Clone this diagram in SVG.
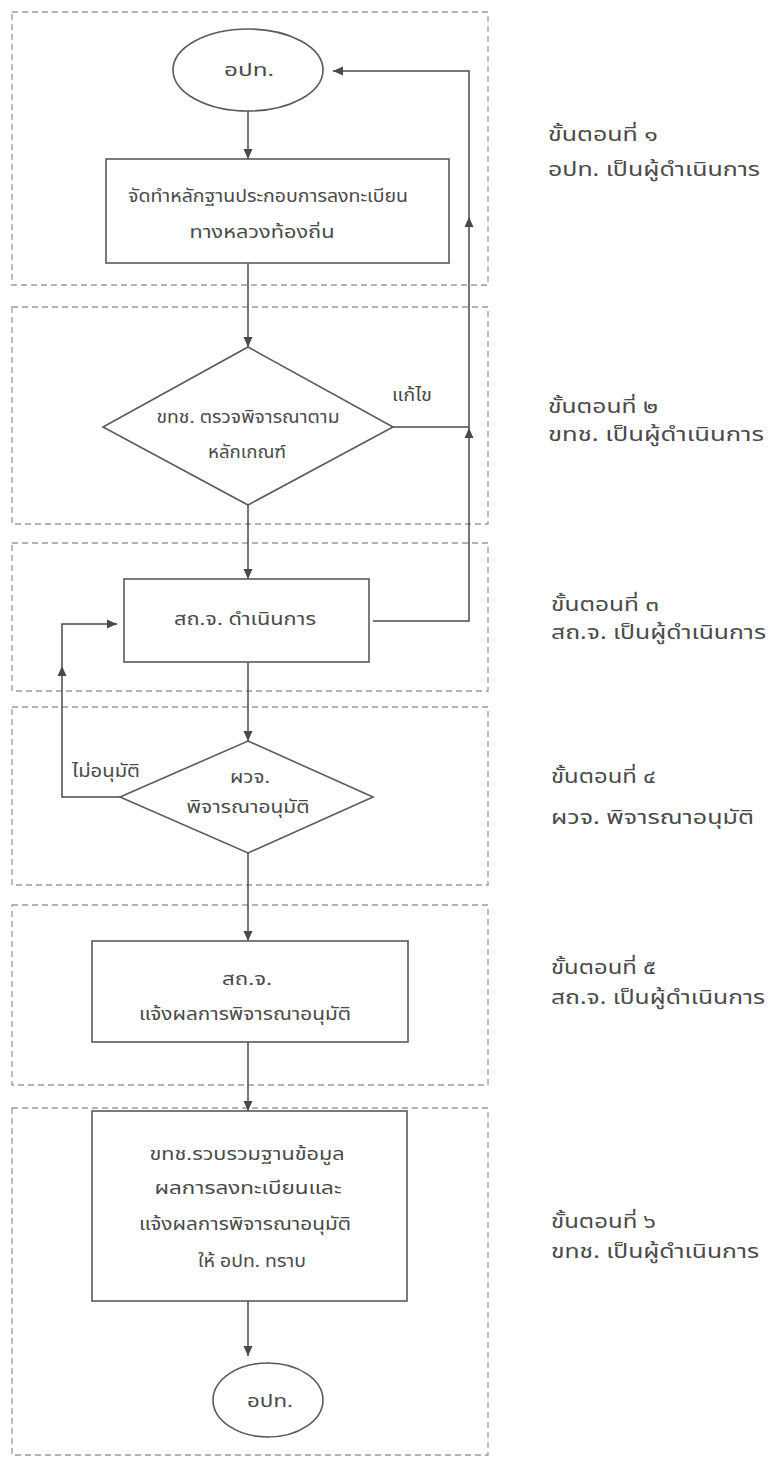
<svg xmlns="http://www.w3.org/2000/svg" width="772" height="1461" viewBox="0 0 772 1461">
<defs>
<marker id="ah" viewBox="0 0 10 10" refX="10" refY="5" markerWidth="10" markerHeight="10" markerUnits="userSpaceOnUse" orient="auto"><path d="M0,0.5 L10,5 L0,9.5 z" fill="#4a4a4a"/></marker>
<style>
.stage{fill:none;stroke:#9a9a9a;stroke-width:1.3;stroke-dasharray:6,4}
.shape{fill:#fff;stroke:#5a5a5a;stroke-width:1.6}
.ln{fill:none;stroke:#4a4a4a;stroke-width:1.5}
.t{font-family:"Noto Sans Thai","Noto Sans Thai UI","Noto Sans","DejaVu Sans",sans-serif;font-size:17px;fill:#4a4a4a;text-anchor:middle;dominant-baseline:central}
.lbl{font-family:"Noto Sans Thai","Noto Sans Thai UI","Noto Sans","DejaVu Sans",sans-serif;font-size:19px;fill:#4a4a4a}
.tri{fill:#4a4a4a}
</style>
</defs>
<g id="stages">
<rect class="stage" x="12" y="12" width="476" height="273"/>
<rect class="stage" x="12" y="307" width="476" height="217"/>
<rect class="stage" x="12" y="543" width="476" height="148"/>
<rect class="stage" x="12" y="707" width="476" height="178"/>
<rect class="stage" x="12" y="905" width="476" height="180"/>
<rect class="stage" x="12" y="1108" width="476" height="347"/>
</g>
<g id="connectors">
<line class="ln" x1="248" y1="111" x2="248" y2="159" marker-end="url(#ah)"/>
<line class="ln" x1="248" y1="263" x2="248" y2="347" marker-end="url(#ah)"/>
<line class="ln" x1="248" y1="505" x2="248" y2="579" marker-end="url(#ah)"/>
<line class="ln" x1="248" y1="662" x2="248" y2="741" marker-end="url(#ah)"/>
<line class="ln" x1="248" y1="853" x2="248" y2="941" marker-end="url(#ah)"/>
<line class="ln" x1="248" y1="1042" x2="248" y2="1111" marker-end="url(#ah)"/>
<line class="ln" x1="248" y1="1301" x2="248" y2="1356" marker-end="url(#ah)"/>
<polyline class="ln" points="373,621 469,621 469,71 333,71" marker-end="url(#ah)"/>
<line class="ln" x1="393" y1="427" x2="469" y2="427"/>
<path class="tri" d="M469,217 L473.5,227 L464.5,227 z"/>
<path class="tri" d="M469,428 L473.5,438 L464.5,438 z"/>
<polyline class="ln" points="120,797 62,797 62,624 117,624" marker-end="url(#ah)"/>
<path class="tri" d="M62,666 L66.5,676 L57.5,676 z"/>
<text class="t" x="412" y="396" textLength="40" lengthAdjust="spacingAndGlyphs">แก้ไข</text>
<text class="t" x="106" y="772" textLength="68" lengthAdjust="spacingAndGlyphs">ไม่อนุมัติ</text>
</g>
<g id="n1">
<ellipse class="shape" cx="248" cy="70" rx="75" ry="41"/>
<text class="t" x="249" y="71" textLength="50" lengthAdjust="spacingAndGlyphs">อปท.</text>
</g>
<g id="n2">
<rect class="shape" x="106" y="159" width="343" height="104"/>
<text class="t" x="268" y="197" textLength="280" lengthAdjust="spacingAndGlyphs">จัดทำหลักฐานประกอบการลงทะเบียน</text>
<text class="t" x="262" y="233" textLength="145" lengthAdjust="spacingAndGlyphs">ทางหลวงท้องถิ่น</text>
</g>
<g id="n3">
<polygon class="shape" points="248,347 393,427 248,505 103,427"/>
<text class="t" x="248" y="418" textLength="183" lengthAdjust="spacingAndGlyphs">ขทช. ตรวจพิจารณาตาม</text>
<text class="t" x="247" y="453" textLength="78" lengthAdjust="spacingAndGlyphs">หลักเกณฑ์</text>
</g>
<g id="n4">
<rect class="shape" x="124" y="579" width="245" height="83"/>
<text class="t" x="245" y="620" textLength="142" lengthAdjust="spacingAndGlyphs">สถ.จ. ดำเนินการ</text>
</g>
<g id="n5">
<polygon class="shape" points="248,741 373,797 248,853 120,797"/>
<text class="t" x="250" y="778" textLength="40" lengthAdjust="spacingAndGlyphs">ผวจ.</text>
<text class="t" x="248" y="808" textLength="123" lengthAdjust="spacingAndGlyphs">พิจารณาอนุมัติ</text>
</g>
<g id="n6">
<rect class="shape" x="92" y="941" width="316" height="101"/>
<text class="t" x="247" y="980" textLength="50" lengthAdjust="spacingAndGlyphs">สถ.จ.</text>
<text class="t" x="245" y="1015" textLength="212" lengthAdjust="spacingAndGlyphs">แจ้งผลการพิจารณาอนุมัติ</text>
</g>
<g id="n7">
<rect class="shape" x="92" y="1111" width="315" height="190"/>
<text class="t" x="247" y="1155" textLength="195" lengthAdjust="spacingAndGlyphs">ขทช.รวบรวมฐานข้อมูล</text>
<text class="t" x="248" y="1189" textLength="187" lengthAdjust="spacingAndGlyphs">ผลการลงทะเบียนและ</text>
<text class="t" x="245" y="1225" textLength="212" lengthAdjust="spacingAndGlyphs">แจ้งผลการพิจารณาอนุมัติ</text>
<text class="t" x="252" y="1262" textLength="108" lengthAdjust="spacingAndGlyphs">ให้ อปท. ทราบ</text>
</g>
<g id="n8">
<ellipse class="shape" cx="268" cy="1400" rx="55" ry="37"/>
<text class="t" x="270" y="1402" textLength="46" lengthAdjust="spacingAndGlyphs">อปท.</text>
</g>
<g id="labels">
<text class="lbl" x="548" y="141" textLength="110" lengthAdjust="spacingAndGlyphs">ขั้นตอนที่ ๑</text>
<text class="lbl" x="548" y="176" textLength="212" lengthAdjust="spacingAndGlyphs">อปท. เป็นผู้ดำเนินการ</text>
<text class="lbl" x="548" y="413" textLength="110" lengthAdjust="spacingAndGlyphs">ขั้นตอนที่ ๒</text>
<text class="lbl" x="548" y="441" textLength="216" lengthAdjust="spacingAndGlyphs">ขทช. เป็นผู้ดำเนินการ</text>
<text class="lbl" x="551" y="611" textLength="108" lengthAdjust="spacingAndGlyphs">ขั้นตอนที่ ๓</text>
<text class="lbl" x="551" y="639" textLength="215" lengthAdjust="spacingAndGlyphs">สถ.จ. เป็นผู้ดำเนินการ</text>
<text class="lbl" x="551" y="783" textLength="105" lengthAdjust="spacingAndGlyphs">ขั้นตอนที่ ๔</text>
<text class="lbl" x="551" y="824" textLength="203" lengthAdjust="spacingAndGlyphs">ผวจ. พิจารณาอนุมัติ</text>
<text class="lbl" x="551" y="974" textLength="105" lengthAdjust="spacingAndGlyphs">ขั้นตอนที่ ๕</text>
<text class="lbl" x="551" y="1004" textLength="214" lengthAdjust="spacingAndGlyphs">สถ.จ. เป็นผู้ดำเนินการ</text>
<text class="lbl" x="551" y="1228" textLength="105" lengthAdjust="spacingAndGlyphs">ขั้นตอนที่ ๖</text>
<text class="lbl" x="551" y="1258" textLength="208" lengthAdjust="spacingAndGlyphs">ขทช. เป็นผู้ดำเนินการ</text>
</g>
</svg>
